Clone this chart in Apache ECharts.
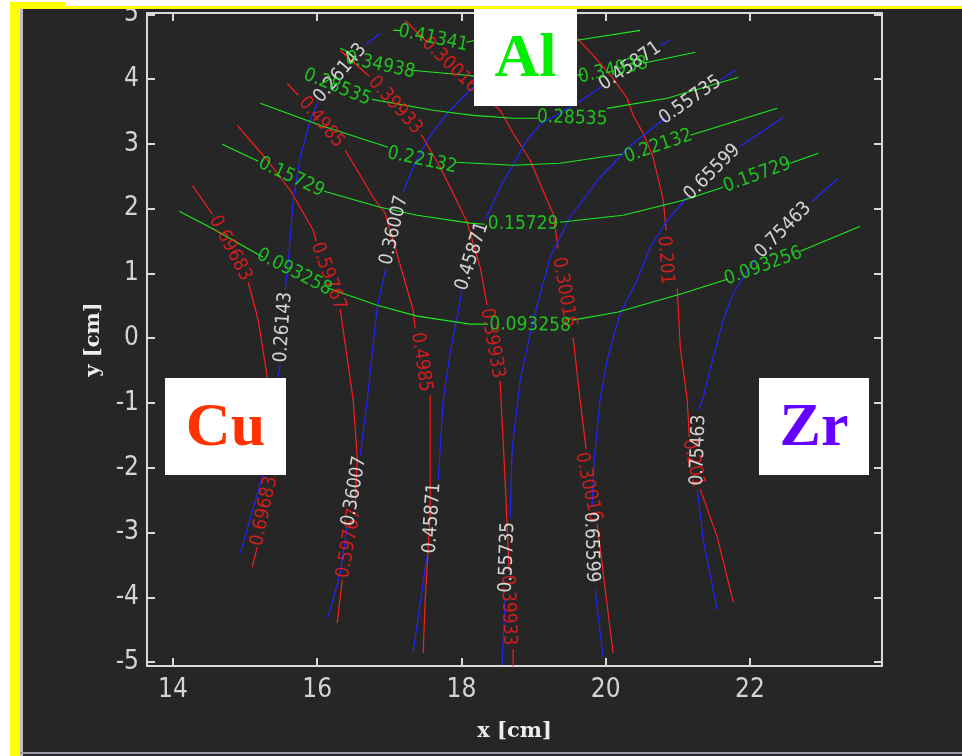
<!DOCTYPE html>
<html><head><meta charset="utf-8">
<script src="https://cdn.jsdelivr.net/npm/echarts@6/dist/echarts.min.js"></script>
<style>html,body{margin:0;padding:0;background:#fff;}#c{width:962px;height:756px;}</style>
</head><body><div id="c"></div>
<script>
// ---- axis ticks ----
const xTicks = [14, 16, 18, 20, 22];
const yTicks = [-5, -4, -3, -2, -1, 0, 1, 2, 3, 4, 5];
const xRange = [13.64, 23.83];
const yRange = [-5.06, 5.02];

// ---- Cu contours (red). null = gap where an inline label sits ----
const cu_69683 = [[14.267,2.361],[14.546,1.914],null,[15.044,0.864],[15.182,0.278],[15.307,-0.602],[15.376,-1.420],[15.418,-2.130],null,[15.168,-3.225],[15.099,-3.534]];
const cu_59767 = [[14.891,3.287],[15.307,2.747],[15.626,2.284],[15.944,1.667],[15.986,1.497],null,[16.318,0.448],[16.499,-0.957],[16.554,-1.836],[16.527,-2.623],null,[16.346,-3.735],[16.277,-4.398]];
const cu_4985  = [[15.584,3.935],[15.737,3.750],null,[16.388,2.901],[16.637,2.438],[16.776,2.176],[16.942,1.929],[17.052,1.512],[17.330,0.432],[17.358,0.154],null,[17.566,-0.880],[17.566,-2.701],[17.497,-4.043],[17.469,-4.861]];
const cu_39933 = [[16.318,4.444],[16.720,4.043],null,[17.441,3.148],[17.704,2.639],[17.885,2.238],[18.078,1.790],[18.259,1.096],[18.355,0.509],null,[18.536,-0.664],[18.605,-2.191],[18.660,-3.596],null,[18.716,-4.799],[18.716,-5.062]];
const cu_30016 = [[17.219,4.907],[17.524,4.568],null,[18.175,3.858],[18.536,3.519],[18.716,3.164],[18.952,2.747],[19.188,2.130],[19.270,1.929],[19.339,1.389],null,[19.548,0.015],[19.645,-0.957],[19.728,-1.713],null,[19.881,-2.870],[20.102,-4.861]];
const cu_201   = [[19.603,4.630],[19.825,4.367],[20.102,4.012],[20.296,3.704],[20.380,3.441],[20.519,3.164],[20.658,2.793],[20.797,2.130],[20.838,1.667],null,[20.991,0.772],[21.033,-0.139],[21.130,-0.957],[21.158,-1.528],null,[21.310,-2.330],[21.546,-3.071],[21.768,-4.074]];
// label: [x, y, angle(deg), text]
const cuLabels = [
  [14.794,1.389,-62,'0.69683'],[15.265,-2.670,78,'0.69683'],
  [16.152,0.957,-70,'0.59767'],[16.443,-3.164,80,'0.59767'],
  [16.055,3.333,-50,'0.4985'],[17.441,-0.370,-82,'0.4985'],
  [17.080,3.596,-48,'0.39933'],[18.425,-0.077,-80,'0.39933'],[18.647,-4.198,-88,'0.39933'],
  [17.843,4.213,-44,'0.30016'],[19.423,0.710,-80,'0.30016'],[19.756,-2.299,-78,'0.30016'],
  [20.824,1.204,-86,'0.201'],[21.213,-1.929,-78,'0.201']
];

// ---- Zr contours (blue) ----
const zr_26143 = [[16.873,4.707],[16.679,4.537],null,[16.014,3.657],[15.903,3.364],[15.764,2.793],[15.667,2.130],[15.612,1.358],[15.557,0.741],null,[15.487,-0.432],[15.445,-0.648],[15.376,-1.420],[15.238,-2.145],[14.933,-3.318]];
const zr_36007 = [[18.175,3.889],[17.981,3.673],[17.801,3.472],[17.524,3.056],[17.330,2.639],[17.191,2.253],null,[16.956,1.096],[16.831,0.478],[16.693,-0.957],[16.596,-1.806],null,[16.415,-2.917],[16.318,-3.627],[16.152,-4.306]];
const zr_45871 = [[20.894,4.599],[20.755,4.522],null,[19.950,3.889],[19.603,3.627],[19.091,3.302],[18.910,3.056],[18.536,2.330],[18.328,1.821],null,[18.009,0.741],[17.843,-0.231],[17.746,-0.957],[17.677,-2.191],null,[17.524,-3.349],[17.330,-4.846]];
const zr_55735 = [[21.796,4.136],[21.588,3.981],null,[20.824,3.395],[20.380,3.009],[19.922,2.485],[19.506,1.867],[19.230,1.250],[18.994,0.278],[18.813,-0.648],[18.702,-1.728],[18.674,-2.778],null,[18.605,-3.997],[18.563,-5.046]];
const zr_65599 = [[22.461,3.410],[21.865,2.963],null,[21.144,2.191],[20.852,1.821],[20.616,1.404],[20.435,0.895],[20.199,0.386],[20.019,-0.340],[19.922,-0.957],[19.839,-1.883],[19.811,-2.577],null,[19.853,-3.889],[19.964,-4.923]];
const zr_75463 = [[23.224,2.469],[22.864,2.114],null,[22.070,1.219],[21.768,0.694],[21.629,0.278],[21.491,-0.293],[21.352,-0.910],[21.283,-1.111],null,[21.269,-2.330],[21.352,-3.117],[21.546,-4.198]];
const zrLabels = [
  [16.318,4.090,50,'0.26143'],[15.529,0.170,86,'0.26143'],
  [17.066,1.667,77,'0.36007'],[16.513,-2.361,80,'0.36007'],
  [20.338,4.198,35,'0.45871'],[18.148,1.265,72,'0.45871'],[17.594,-2.778,86,'0.45871'],
  [21.172,3.673,35,'0.55735'],[18.633,-3.380,88,'0.55735'],
  [21.477,2.562,45,'0.65599'],[19.797,-3.225,-88,'0.65599'],
  [22.461,1.667,45,'0.75463'],[21.283,-1.728,88,'0.75463']
];

// ---- Al contours (green) ----
const al_093258 = [[14.087,1.960],[14.540,1.698],[15.251,1.250],null,[16.152,0.772],[16.831,0.509],[17.386,0.340],[18.120,0.216],[18.369,0.216],null,[19.534,0.278],[20.158,0.401],[21.074,0.694],[21.685,0.910],null,[22.697,1.343],[23.529,1.728]];
const al_15729 = [[14.683,2.994],[15.182,2.731],null,[16.097,2.269],[16.873,2.022],[17.386,1.898],[18.120,1.775],[18.328,1.759],null,[19.367,1.790],[20.241,1.898],[21.074,2.130],[21.629,2.330],null,[22.558,2.701],[22.947,2.855]];
const al_22132 = [[15.210,3.627],[16.041,3.287],[16.984,2.948],null,[17.926,2.716],[18.716,2.670],[19.367,2.701],[19.922,2.793],[20.227,2.840],null,[21.172,3.133],[22.378,3.549]];
const al_28535 = [[15.750,4.074],null,[16.762,3.688],[17.607,3.519],[18.161,3.441],[18.716,3.395],[19.063,3.395],null,[20.019,3.549],[20.852,3.704],[21.838,4.028]];
const al_34938 = [[16.318,4.475],[16.443,4.414],null,[17.302,4.136],[18.078,4.059],[18.189,4.043],[19.603,4.059],[19.686,4.074],null,[20.519,4.244],[21.241,4.414]];
const al_41341 = [[17.052,4.753],[17.163,4.753],null,[18.065,4.568],[18.189,4.599],[19.603,4.599],[20.477,4.753]];
const alLabels = [
  [15.681,1.019,-27,'0.093258'],[18.952,0.201,-1,'0.093258'],[22.184,1.111,20,'0.093256'],
  [15.640,2.485,-25,'0.15729'],[18.855,1.759,0,'0.15729'],[22.101,2.515,20,'0.15729'],
  [17.455,2.747,-12,'0.22132'],[20.727,2.963,19,'0.22132'],
  [16.277,3.873,-22,'0.28535'],[19.534,3.395,-2,'0.28535'],
  [16.873,4.213,-12,'0.34938'],[20.102,4.136,12,'0.34938'],
  [17.607,4.630,-12,'0.41341']
];

// ---- element names in boxes ----
const boxNames = ['Al', 'Cu', 'Zr'];

// ---------------------------------------------------------------
function hasFont(f){
  const c=document.createElement('canvas').getContext('2d');
  c.font='40px monospace'; const a=c.measureText('0123456789 x').width;
  c.font='40px "'+f+'", monospace'; return c.measureText('0123456789 x').width!==a;
}
const narrowOK = hasFont('Liberation Sans Narrow');
const NARROW = narrowOK ? '"Liberation Sans Narrow"' :
               (hasFont('DejaVu Sans Condensed') ? '"DejaVu Sans Condensed"' : '"Liberation Sans"');
const tickFS = narrowOK ? 29 : 26;
const labFS = narrowOK ? 21 : 19;

const RED='#ff1c1c', BLUE='#2424ff', GREEN='#1ee81e';
const bg='#262626';

const toData = pts => pts.map(p => p===null ? ['-','-'] : p);
function lineSeries(pts,color){
  return {type:'line', data:toData(pts), showSymbol:false, symbol:'none', connectNulls:false,
    lineStyle:{color:color,width:1.2}, silent:true, animation:false, z:2};
}
function labelSeries(labels,color){
  return {type:'scatter', symbolSize:0, silent:true, animation:false, z:3,
    data: labels.map(l => ({value:[l[0],l[1]], name:l[3],
      label:{show:true, position:'inside', rotate:l[2], formatter:l[3], color:color,
        fontSize:labFS, fontFamily:NARROW, align:'center', verticalAlign:'middle'}}))};
}
const series = [];
[cu_69683,cu_59767,cu_4985,cu_39933,cu_30016,cu_201].forEach(s=>series.push(lineSeries(s,RED)));
[zr_26143,zr_36007,zr_45871,zr_55735,zr_65599,zr_75463].forEach(s=>series.push(lineSeries(s,BLUE)));
[al_093258,al_15729,al_22132,al_28535,al_34938,al_41341].forEach(s=>series.push(lineSeries(s,GREEN)));
series.push(labelSeries(cuLabels,RED));
series.push(labelSeries(zrLabels,'#ffffff'));
series.push(labelSeries(alLabels,GREEN));

const axCol='#d9d9d9';
const titleStyle = {color:'#ececec',fontSize:21,fontWeight:'bold',fontFamily:'"DejaVu Serif"'};
function xAx(pos,showLab){
  return {type:'value', position:pos, min:xRange[0], max:xRange[1],
    axisLine:{show:true,onZero:false,lineStyle:{color:axCol,width:2}},
    axisTick:{show:true,inside:true,length:8,customValues:xTicks,lineStyle:{color:axCol,width:2}},
    axisLabel:{show:showLab,customValues:xTicks,color:'#d4d4d4',fontSize:tickFS,fontFamily:NARROW,margin:11},
    splitLine:{show:false},
    name: showLab?'x [cm]':'', nameLocation:'middle', nameGap:55, nameTextStyle:titleStyle};
}
function yAx(pos,showLab){
  return {type:'value', position:pos, min:yRange[0], max:yRange[1],
    axisLine:{show:true,onZero:false,lineStyle:{color:axCol,width:2}},
    axisTick:{show:true,inside:true,length:8,customValues:yTicks,lineStyle:{color:axCol,width:2}},
    axisLabel:{show:showLab,customValues:yTicks,color:'#d4d4d4',fontSize:tickFS,fontFamily:NARROW,margin:8},
    splitLine:{show:false},
    name: showLab?'y [cm]':'', nameLocation:'middle', nameGap:43, nameRotate:90, nameTextStyle:titleStyle};
}

const boxStyle = {fill:'#ffffff'};
const boxFont = 'bold 62px "Liberation Serif", "Times New Roman", serif';
function box(x,y,w,h,text,color){
  return {type:'group', z:50, children:[
    {type:'rect', shape:{x:x,y:y,width:w,height:h}, style:boxStyle, z:50},
    {type:'text', x:x+w/2, y:y+h/2+2, z:51, style:{text:text, fill:color, font:boxFont, textAlign:'center', textVerticalAlign:'middle'}}
  ]};
}

const chart = echarts.init(document.getElementById('c'), null, {renderer:'canvas'});
chart.setOption({
  backgroundColor:bg,
  animation:false,
  grid:{left:147,right:80,top:13,bottom:90,containLabel:false},
  xAxis:[xAx('bottom',true), xAx('top',false)],
  yAxis:[yAx('left',true), yAx('right',false)],
  series:series,
  graphic:[
    {type:'rect', shape:{x:0,y:0,width:962,height:6}, style:{fill:'#ffffff'}, z:60},
    {type:'rect', shape:{x:0,y:0,width:10,height:756}, style:{fill:'#ffffff'}, z:60},
    {type:'rect', shape:{x:10,y:2,width:55,height:6}, style:{fill:'#ffff00'}, z:61},
    {type:'rect', shape:{x:10,y:6,width:952,height:3}, style:{fill:'#ffff00'}, z:61},
    {type:'rect', shape:{x:10,y:2,width:10,height:754}, style:{fill:'#ffff00'}, z:61},
    {type:'rect', shape:{x:20,y:9,width:3,height:747}, style:{fill:'#bdbdc6'}, z:61},
    {type:'rect', shape:{x:20,y:752,width:942,height:2}, style:{fill:'#9a9aa6'}, z:61},
    box(474,9,103,97,boxNames[0],'#00ee00'),
    box(165,378,121,97,boxNames[1],'#ff3300'),
    box(759,378,110,97,boxNames[2],'#6600ff')
  ]
});
</script>
</body></html>
